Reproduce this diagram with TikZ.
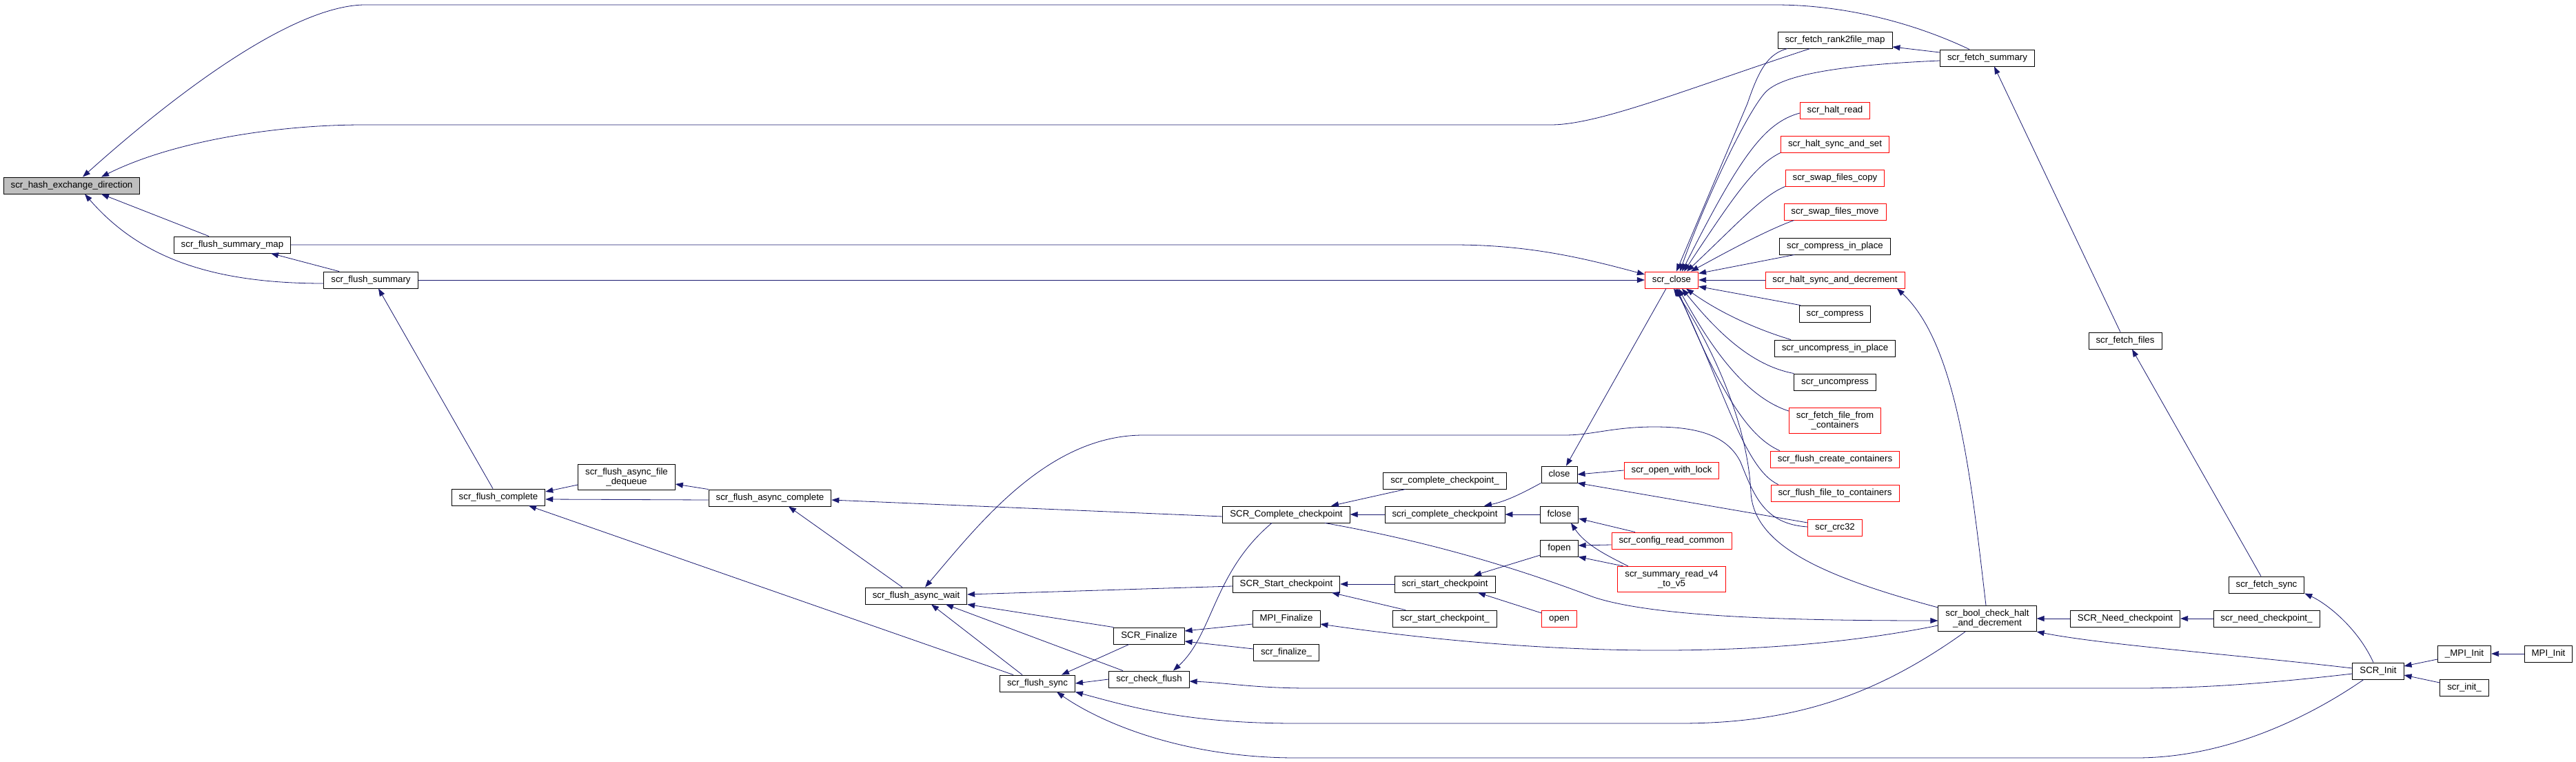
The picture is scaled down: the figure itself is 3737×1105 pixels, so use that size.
\documentclass[tikz,border=0pt]{standalone}
\usepackage{fontspec}
\setmainfont{Liberation Sans}
\usetikzlibrary{arrows.meta}
\definecolor{CallEdge}{HTML}{191970}
\definecolor{RootFill}{HTML}{BFBFBF}
\newcommand{\callfont}{\fontsize{13.3}{13.3}\selectfont}
\tikzset{
  fnbox/.style={draw=black,line width=0.9pt,fill=white,inner xsep=10.5pt,font=\callfont},
  fn/.style={fnbox,inner ysep=0pt,minimum height=24pt,text height=9.6pt,text depth=2.8pt},
  fnred/.style={fn,draw=red},
  fnroot/.style={fn,fill=RootFill},
  fntwo/.style={fnbox,inner ysep=5.8pt,align=center},
  fntwored/.style={fntwo,draw=red},
  calls/.style={draw=CallEdge,line width=0.8pt,-{Triangle[length=11pt,width=8pt]}},
}
\begin{document}
\begin{tikzpicture}[x=1pt,y=-1pt]
  \useasboundingbox[fill=white] (0,0) rectangle (3737,1105);
  % functions, placed column by column
  \foreach \nm/\xx/\yy/\st/\lab in {
      hash/104/269/fnroot/{scr\_hash\_exchange\_direction},
      fsmap/337/355/fn/{scr\_flush\_summary\_map},
      fsum/538/406/fn/{scr\_flush\_summary},
      fcomp/723/721/fn/{scr\_flush\_complete},
      fdeq/909/692/fntwo/{scr\_flush\_async\_file\\\_dequeue},
      facomp/1117/722/fn/{scr\_flush\_async\_complete},
      fawait/1329/864/fn/{scr\_flush\_async\_wait},
      fsync/1505/991/fn/{scr\_flush\_sync},
      SFin/1667/922/fn/{SCR\_Finalize},
      chkfl/1667/985/fn/{scr\_check\_flush},
      SComp/1866/746/fn/{SCR\_Complete\_checkpoint},
      SStart/1866/847/fn/{SCR\_Start\_checkpoint},
      MFin/1866/897/fn/{MPI\_Finalize},
      fin/1866/946/fn/{scr\_finalize\_},
      ccp/2096/697/fn/{scr\_complete\_checkpoint\_},
      scric/2096/746/fn/{scri\_complete\_checkpoint},
      scris/2096/847/fn/{scri\_start\_checkpoint},
      scp/2096/897/fn/{scr\_start\_checkpoint\_},
      close/2262/688/fn/{close},
      fclose/2262/746/fn/{fclose},
      fopen/2262/795/fn/{fopen},
      open/2262/897/fnred/{open},
      sclose/2425/406/fnred/{scr\_close},
      owl/2425/682/fnred/{scr\_open\_with\_lock},
      crc/2425/784/fnred/{scr\_config\_read\_common},
      srv/2425/840/fntwored/{scr\_summary\_read\_v4\\\_to\_v5},
      r2f/2662/58/fn/{scr\_fetch\_rank2file\_map},
      hread/2662/160/fnred/{scr\_halt\_read},
      hsset/2662/209/fnred/{scr\_halt\_sync\_and\_set},
      swc/2662/258/fnred/{scr\_swap\_files\_copy},
      swm/2662/307/fnred/{scr\_swap\_files\_move},
      cip/2662/357/fn/{scr\_compress\_in\_place},
      hsdec/2662/406/fnred/{scr\_halt\_sync\_and\_decrement},
      comp/2662/455/fn/{scr\_compress},
      ucip/2662/505/fn/{scr\_uncompress\_in\_place},
      ucomp/2662/554/fn/{scr\_uncompress},
      ffc/2662/610/fntwored/{scr\_fetch\_file\_from\\\_containers},
      fcc/2662/666/fnred/{scr\_flush\_create\_containers},
      fftc/2662/715/fnred/{scr\_flush\_file\_to\_containers},
      crc32/2662/765/fnred/{scr\_crc32},
      fsumm/2883/84/fn/{scr\_fetch\_summary},
      bool/2883/897/fntwo/{scr\_bool\_check\_halt\\\_and\_decrement},
      ffiles/3083/494/fn/{scr\_fetch\_files},
      SNeed/3083/897/fn/{SCR\_Need\_checkpoint},
      fsyncf/3288/848/fn/{scr\_fetch\_sync},
      need/3288/897/fn/{scr\_need\_checkpoint\_},
      SInit/3450/973/fn/{SCR\_Init},
      mpiinitu/3575/948/fn/{\_MPI\_Init},
      mpiinit/3697/948/fn/{MPI\_Init},
      scrinit/3575/997/fn/{scr\_init\_}} {
    \node[\st] (\nm) at (\xx,\yy) {\lab};
  }
  % into the root
  \draw[calls] ([xshift=-26pt]fsumm.north) .. controls (2780,35) and (2680,7) .. (2575,7)
        -- (527,7) .. controls (420,10) and (250,140) .. ([xshift=16pt]hash.north);
  \draw[calls] ([xshift=-36pt]r2f.south) .. controls (2450,128) and (2320,181) .. (2250,181)
        -- (527,181) .. controls (400,181) and (250,205) .. ([xshift=43pt]hash.north);
  \draw[calls] ([xshift=-34pt]fsmap.north) -- ([xshift=43pt]hash.south);
  \draw[calls] ([yshift=-5pt]fsum.west) .. controls (300,411) and (200,370) .. ([xshift=19pt]hash.south);
  \draw[calls] ([xshift=-46pt]fsum.north) -- ([xshift=56pt]fsmap.south);
  % into scr_close
  \draw[calls] (fsmap.east) -- (2108,355) .. controls (2220,355) and (2300,375) .. ([yshift=8pt]sclose.west);
  \draw[calls] (fsum.east) -- (sclose.west);
  \draw[calls] ([xshift=-69pt]r2f.south) .. controls (2565,78) and (2552,100) .. (2535,150)
        -- ([xshift=7pt]sclose.north);
  \draw[calls] ([yshift=-4pt]fsumm.west) .. controls (2650,95) and (2580,112) .. (2560,135)
        .. controls (2530,170) and (2470,300) .. ([xshift=12pt]sclose.north);
  \draw[calls] ([yshift=8pt]fsumm.west) -- ([yshift=-10pt]r2f.east);
  \draw[calls] ([yshift=-4pt]hread.west) .. controls (2560,178) and (2525,225) .. ([xshift=15pt]sclose.north);
  \draw[calls] (hsset.south west) .. controls (2545,240) and (2515,285) .. ([xshift=18pt]sclose.north);
  \draw[calls] (swc.south west) .. controls (2555,285) and (2520,325) .. ([xshift=22pt]sclose.north);
  \draw[calls] ([xshift=15pt]swm.south west) .. controls (2560,335) and (2500,368) .. ([xshift=28pt]sclose.north);
  \draw[calls] ([xshift=22pt]cip.south west) -- ([yshift=-3pt]sclose.north east);
  \draw[calls] (hsdec.west) -- (sclose.east);
  \draw[calls] ([xshift=2pt]comp.north west) -- ([yshift=3pt]sclose.south east);
  \draw[calls] ([xshift=-64pt]ucip.north) .. controls (2540,475) and (2490,450) .. ([xshift=21pt]sclose.south);
  \draw[calls] (ucomp.north west) .. controls (2540,530) and (2490,480) .. ([xshift=15pt]sclose.south);
  \draw[calls] ([yshift=14pt]ffc.west) .. controls (2530,575) and (2480,500) .. ([xshift=10pt]sclose.south);
  \draw[calls] ([xshift=14pt]fcc.north west) .. controls (2540,635) and (2500,580) .. ([xshift=8pt]sclose.south);
  \draw[calls] ([xshift=11pt]fftc.north west) .. controls (2530,680) and (2500,560) .. ([xshift=6pt]sclose.south);
  \draw[calls] ([yshift=-3pt]bool.north west) .. controls (2640,835) and (2545,790) .. (2540,715)
        .. controls (2535,600) and (2470,480) .. ([xshift=3pt]sclose.south);
  \draw[calls] ([xshift=-2pt]bool.north) .. controls (2860,700) and (2840,500) .. ([xshift=90pt]hsdec.south);
  \draw[calls] ([xshift=-8pt]sclose.south) -- ([xshift=10pt]close.north);
  % fetch chain
  \draw[calls] ([xshift=-7pt]ffiles.north) -- ([xshift=10pt]fsumm.south);
  \draw[calls] ([xshift=-8pt]fsyncf.north) -- ([xshift=10pt]ffiles.south);
  \draw[calls] ([xshift=-7pt]SInit.north) .. controls (3420,910) and (3375,875) .. (fsyncf.south east);
  % init side
  \draw[calls] (SNeed.west) -- (bool.east);
  \draw[calls] (need.west) -- (SNeed.east);
  \draw[calls] ([yshift=4pt]SInit.west) .. controls (3250,950) and (3050,935) .. (bool.south east);
  \draw[calls] ([yshift=-8pt]mpiinitu.west) -- ([yshift=7pt]SInit.east);
  \draw[calls] ([yshift=7pt]scrinit.west) -- ([yshift=-6pt]SInit.east);
  \draw[calls] (mpiinit.west) -- (mpiinitu.east);
  \draw[calls] ([yshift=-4pt]SInit.west) .. controls (3300,990) and (3200,998) .. (3099,998)
        -- (1900,998) .. controls (1820,998) and (1780,990) .. ([yshift=-3pt]chkfl.east);
  \draw[calls] ([xshift=-21pt]SInit.south) .. controls (3350,1040) and (3230,1099) .. (3099,1099)
        -- (1880,1099) .. controls (1720,1099) and (1600,1050) .. ([xshift=28pt]fsync.south);
  % bool and the checkpoint calls
  \draw[calls] ([xshift=-32pt]bool.south) .. controls (2720,1010) and (2600,1049) .. (2437,1049)
        -- (1880,1049) .. controls (1720,1049) and (1640,1025) .. (fsync.south east);
  \draw[calls] ([yshift=-10pt]bool.west) .. controls (2600,950) and (2300,960) .. ([yshift=-8pt]MFin.east);
  \draw[calls] ([xshift=56pt]SComp.south) .. controls (2100,790) and (2230,835) .. (2312,866)
        .. controls (2400,895) and (2600,900) .. ([yshift=-3pt]bool.west);
  \draw[calls] ([xshift=-21pt]SComp.south) .. controls (1760,830) and (1760,920) .. ([xshift=35pt]chkfl.north);
  \draw[calls] ([xshift=-57pt]ccp.south) -- ([xshift=65pt]SComp.north);
  \draw[calls] (scric.west) -- (SComp.east);
  \draw[calls] (close.south west) .. controls (2200,720) and (2180,728) .. ([xshift=57pt]scric.north);
  \draw[calls] (fclose.west) -- (scric.east);
  \draw[calls] (owl.west) -- (close.east);
  \draw[calls] ([yshift=7pt]crc32.west) -- (close.south east);
  \draw[calls] ([yshift=1pt]crc32.west) .. controls (2560,760) and (2545,720) .. (2525,670)
        .. controls (2505,630) and (2460,619) .. (2400,619) .. controls (2340,619) and (2310,631) .. (2270,631)
        -- (1659,631) .. controls (1520,631) and (1420,760) .. ([xshift=13pt]fawait.north);
  \draw[calls] ([xshift=-53pt]crc.north) -- ([yshift=-6pt]fclose.east);
  \draw[calls] ([xshift=-63pt]srv.north) .. controls (2330,805) and (2300,790) .. ([xshift=17pt]fclose.south);
  \draw[calls] ([yshift=-6pt]crc.west) -- ([yshift=4pt]fopen.east);
  \draw[calls] ([xshift=-70pt]srv.north) -- (fopen.south east);
  \draw[calls] (scris.west) -- (SStart.east);
  \draw[calls] ([xshift=-57pt]scp.north) -- ([xshift=66pt]SStart.south);
  \draw[calls] ([yshift=-10pt]fopen.west) -- ([xshift=42pt]scris.north);
  \draw[calls] ([yshift=8pt]open.west) -- ([xshift=48pt]scris.south);
  % async flush side
  \draw[calls] ([yshift=-3pt]SStart.west) -- ([yshift=2pt]fawait.east);
  \draw[calls] (SFin.north west) -- (fawait.south east);
  \draw[calls] ([xshift=-38pt]chkfl.north) -- ([xshift=43pt]fawait.south);
  \draw[calls] ([xshift=-22pt]fsync.north) -- ([xshift=22pt]fawait.south);
  \draw[calls] ([xshift=-29pt]SFin.south) -- ([xshift=35pt]fsync.north);
  \draw[calls] (chkfl.west) -- (fsync.east);
  \draw[calls] ([yshift=-8pt]MFin.west) -- ([yshift=7pt]SFin.east);
  \draw[calls] ([yshift=5pt]fin.west) -- ([yshift=-8pt]SFin.east);
  \draw[calls] ([xshift=-20pt]fawait.north) -- ([xshift=27pt]facomp.south);
  \draw[calls] ([yshift=-3pt]SComp.west) -- ([yshift=-3pt]facomp.east);
  \draw[calls] (facomp.north west) -- ([yshift=-10pt]fdeq.east);
  \draw[calls] ([yshift=-3pt]facomp.west) -- ([yshift=-3pt]fcomp.east);
  \draw[calls] ([yshift=-11pt]fdeq.west) -- ([yshift=8pt]fcomp.east);
  \draw[calls] ([xshift=-35pt]fsync.north) -- ([xshift=44pt]fcomp.south);
  \draw[calls] ([xshift=-8pt]fcomp.north) -- ([xshift=11pt]fsum.south);
\end{tikzpicture}
\end{document}
